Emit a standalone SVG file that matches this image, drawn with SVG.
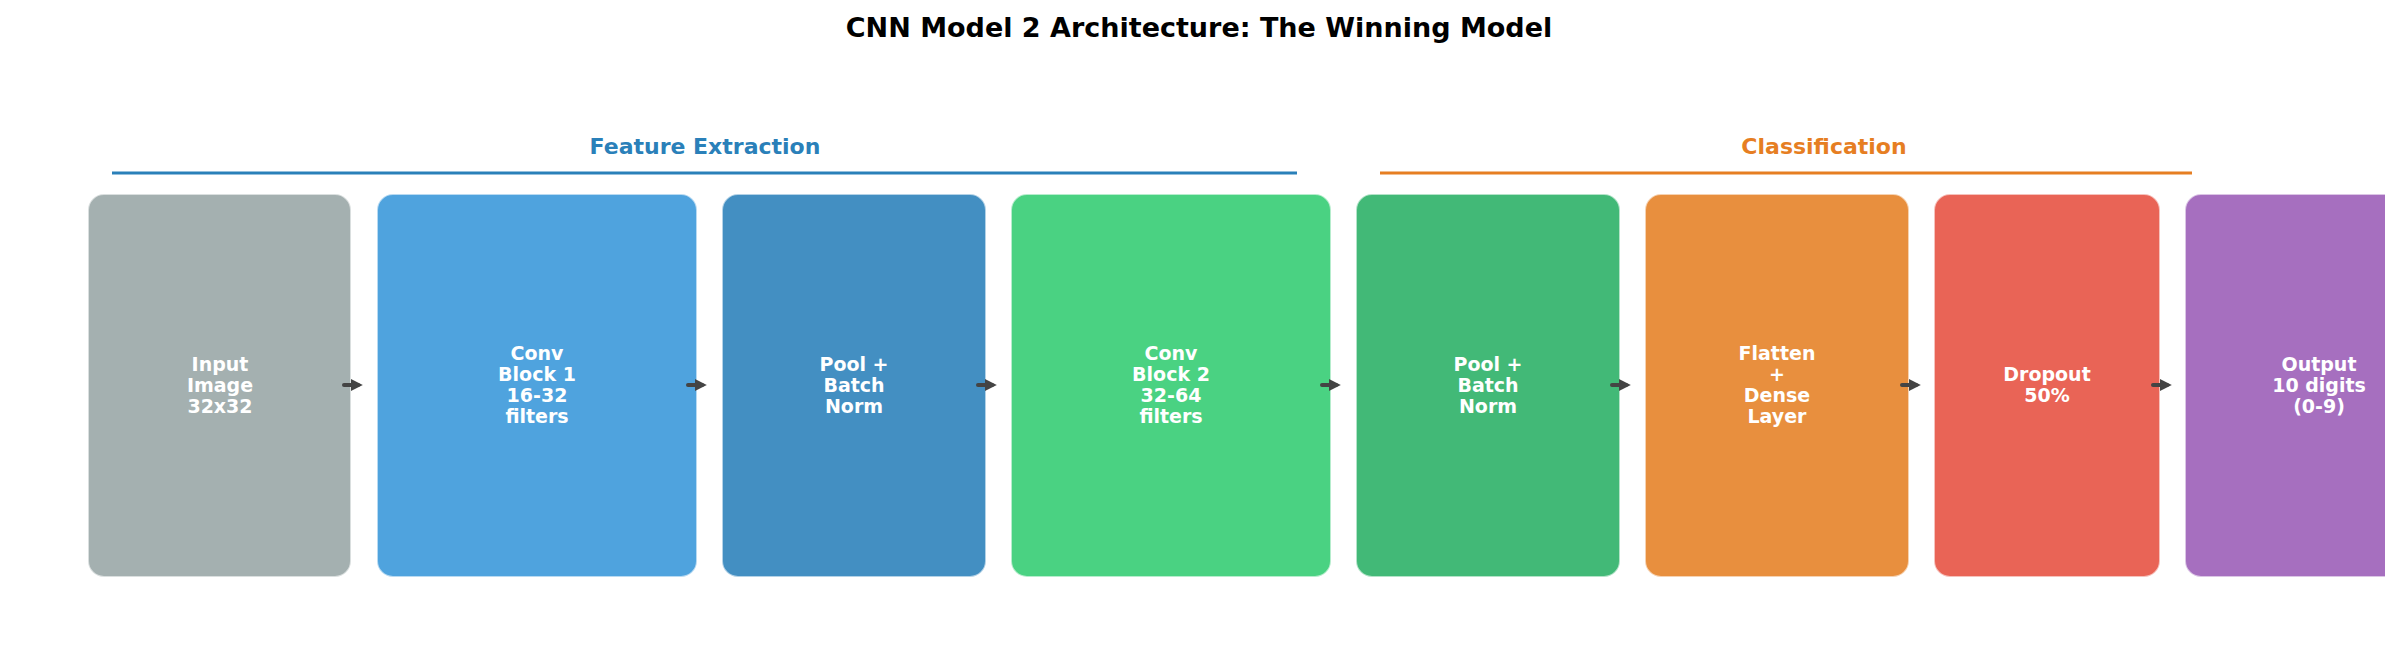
<svg xmlns="http://www.w3.org/2000/svg" width="2385" height="659" viewBox="0 0 2385 659">
<defs>
<style>
.box{stroke:#ffffff;stroke-opacity:0.6;stroke-width:2}
.lbl{font-family:"DejaVu Sans",sans-serif;font-weight:bold;font-size:19px;fill:#ffffff;text-anchor:middle}
.sec{font-family:"DejaVu Sans",sans-serif;font-weight:bold;font-size:22px;text-anchor:middle}
.arr{stroke:#444444;stroke-width:4;stroke-linecap:round;fill:none}
</style>
<marker id="ah" viewBox="0 0 10 10" refX="6" refY="5" markerWidth="3" markerHeight="3" orient="auto"><path d="M0,0 L10,5 L0,10 z" fill="#444444"/></marker>
</defs>
<rect width="2385" height="659" fill="#ffffff"/>
<text x="1199" y="37" font-family="DejaVu Sans, sans-serif" font-weight="bold" font-size="27" text-anchor="middle" fill="#000000">CNN Model 2 Architecture: The Winning Model</text>
<text class="sec" x="705" y="154" fill="#2a80b9">Feature Extraction</text>
<line x1="112" y1="173" x2="1297" y2="173" stroke="#2a80b9" stroke-width="3"/>
<text class="sec" x="1824" y="154" fill="#e67e22">Classification</text>
<line x1="1380" y1="173" x2="2192" y2="173" stroke="#e67e22" stroke-width="3"/>
<g id="n1"><rect class="box" x="88" y="194" width="263" height="383" rx="16" fill="#a4b0b0"/><text class="lbl" x="220" y="371">Input</text><text class="lbl" x="220" y="392">Image</text><text class="lbl" x="220" y="413">32x32</text></g>
<g id="n2"><rect class="box" x="377" y="194" width="320" height="383" rx="16" fill="#4fa3de"/><text class="lbl" x="537" y="360">Conv</text><text class="lbl" x="537" y="381">Block 1</text><text class="lbl" x="537" y="402">16-32</text><text class="lbl" x="537" y="423">filters</text></g>
<g id="n3"><rect class="box" x="722" y="194" width="264" height="383" rx="16" fill="#438fc2"/><text class="lbl" x="854" y="371">Pool +</text><text class="lbl" x="854" y="392">Batch</text><text class="lbl" x="854" y="413">Norm</text></g>
<g id="n4"><rect class="box" x="1011" y="194" width="320" height="383" rx="16" fill="#4ad282"/><text class="lbl" x="1171" y="360">Conv</text><text class="lbl" x="1171" y="381">Block 2</text><text class="lbl" x="1171" y="402">32-64</text><text class="lbl" x="1171" y="423">filters</text></g>
<g id="n5"><rect class="box" x="1356" y="194" width="264" height="383" rx="16" fill="#42b977"/><text class="lbl" x="1488" y="371">Pool +</text><text class="lbl" x="1488" y="392">Batch</text><text class="lbl" x="1488" y="413">Norm</text></g>
<g id="n6"><rect class="box" x="1645" y="194" width="264" height="383" rx="16" fill="#e88f3e"/><text class="lbl" x="1777" y="360">Flatten</text><text class="lbl" x="1777" y="381">+</text><text class="lbl" x="1777" y="402">Dense</text><text class="lbl" x="1777" y="423">Layer</text></g>
<g id="n7"><rect class="box" x="1934" y="194" width="226" height="383" rx="16" fill="#e96456"/><text class="lbl" x="2047" y="381">Dropout</text><text class="lbl" x="2047" y="402">50%</text></g>
<g id="n8"><rect class="box" x="2185" y="194" width="264" height="383" rx="16" fill="#a66fbf"/><text class="lbl" x="2319" y="371">Output</text><text class="lbl" x="2319" y="392">10 digits</text><text class="lbl" x="2319" y="413">(0-9)</text></g>
<g id="connectors">
<line class="arr" x1="344" y1="385" x2="358" y2="385" marker-end="url(#ah)"/>
<line class="arr" x1="688" y1="385" x2="702" y2="385" marker-end="url(#ah)"/>
<line class="arr" x1="978" y1="385" x2="992" y2="385" marker-end="url(#ah)"/>
<line class="arr" x1="1322" y1="385" x2="1336" y2="385" marker-end="url(#ah)"/>
<line class="arr" x1="1612" y1="385" x2="1626" y2="385" marker-end="url(#ah)"/>
<line class="arr" x1="1902" y1="385" x2="1916" y2="385" marker-end="url(#ah)"/>
<line class="arr" x1="2153" y1="385" x2="2167" y2="385" marker-end="url(#ah)"/>
</g>
</svg>
